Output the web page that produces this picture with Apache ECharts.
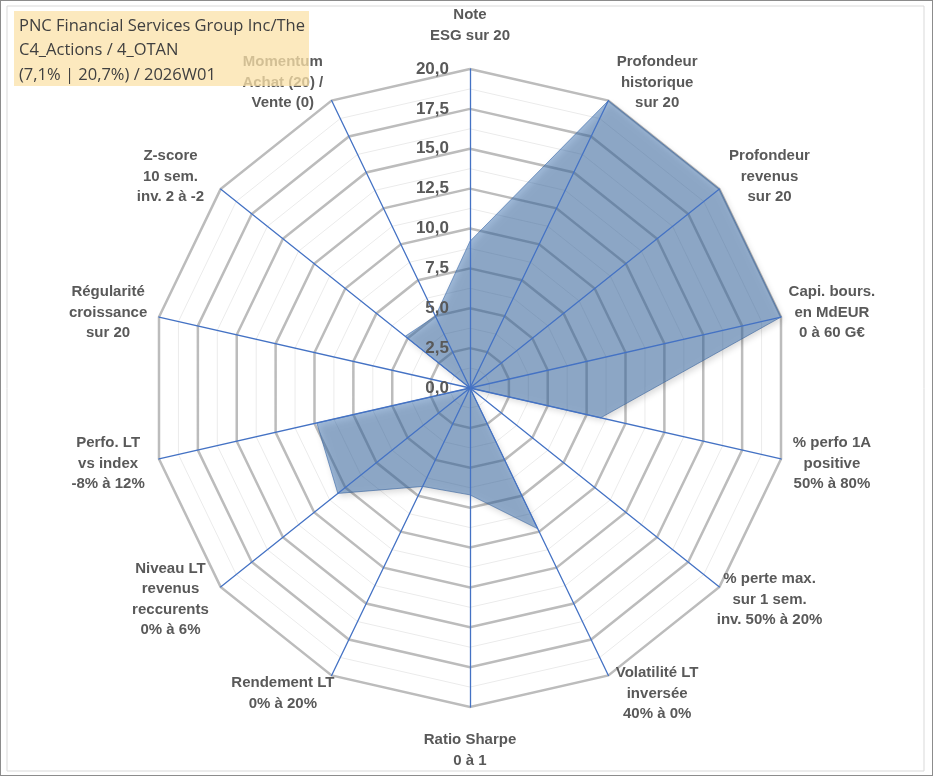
<!DOCTYPE html>
<html>
<head>
<meta charset="utf-8">
<script src="https://cdn.jsdelivr.net/npm/echarts@6/dist/echarts.min.js"></script>
<style>
	html, body { margin: 0; padding: 0; background: #fff; }
	#chart { width: 933px; height: 776px; box-sizing: border-box; border: 1px solid #8c8c8c; }
</style>
</head>
<body>
<div id="chart"></div>
<script>
// axes of the radar, clockwise from the top
var axisNames = [
	'Note\nESG sur 20',
	'Profondeur\nhistorique\nsur 20',
	'Profondeur\nrevenus\nsur 20',
	'Capi. bours.\nen MdEUR\n0 à 60 G€',
	'% perfo 1A\npositive\n50% à 80%',
	'% perte max.\nsur 1 sem.\ninv. 50% à 20%',
	'Volatilité LT\ninversée\n40% à 0%',
	'Ratio Sharpe\n0 à 1',
	'Rendement LT\n0% à 20%',
	'Niveau LT\nrevenus\nreccurents\n0% à 6%',
	'Perfo. LT\nvs index\n-8% à 12%',
	'Régularité\ncroissance\nsur 20',
	'Z-score\n10 sem.\ninv. 2 à -2',
	'Momentum\nAchat (20) /\nVente (0)'
];
// notes sur 20
var scores = [9.2, 20, 20, 20, 8.4, 0, 9.8, 6.7, 6.85, 10.6, 9.85, 0, 5.2, 5.0];
var scoreMax = 20;
var titleLines = [
	'PNC Financial Services Group Inc/The',
	'C4_Actions / 4_OTAN',
	'(7,1% | 20,7%) / 2026W01'
];

// echarts tourne dans le sens inverse : on garde le premier axe en haut et on inverse le reste
function clockwise(arr) {
	return [arr[0]].concat(arr.slice(1).reverse());
}

var myChart = echarts.init(document.getElementById('chart'));
var center = [469, 387];
var radius = 319;
var indicators = clockwise(axisNames).map(function (n) {
	return { name: n, max: scoreMax, min: 0 };
});
var hidden = {
	axisLine: { show: false },
	axisTick: { show: false },
	splitArea: { show: false }
};

// décale un peu les libellés vers le haut / le bas selon l'angle de l'axe
function axisNameFormatter(name) {
	var i = axisNames.indexOf(name);
	var n = axisNames.length;
	var c = Math.cos(i * 2 * Math.PI / n);
	var lines = name.split('\n').map(function (l) { return '{a|' + l + '}'; });
	var gapLine;
	if (i === 0 || i === n / 2) {
		gapLine = '{g19|}';
	} else {
		gapLine = '{g' + Math.round(Math.abs(c) * 32) + '|}';
	}
	if (c > 0) lines.push(gapLine);
	else lines.unshift(gapLine);
	return lines.join('\n');
}
var nameRich = {
	a: { width: 94, align: 'center', lineHeight: 20.5, fontSize: 15, fontWeight: 'bold', color: '#595959' }
};
for (var h = 0; h <= 32; h++) {
	nameRich['g' + h] = { height: h, lineHeight: h };
}

var option = {
	animation: false,
	radar: [
		// fines lignes intermédiaires
		Object.assign({
			center: center, radius: radius, startAngle: 90, splitNumber: 16, z: 0,
			indicator: indicators,
			axisName: { show: false },
			splitLine: { lineStyle: { color: '#ebebeb', width: 1 } }
		}, hidden),
		// anneaux principaux
		Object.assign({
			center: center, radius: radius, startAngle: 90, splitNumber: 8, z: 0,
			indicator: indicators,
			axisName: { show: false },
			splitLine: { lineStyle: { color: '#bcbcbc', width: 2.5 } }
		}, hidden),
		// rayons bleus et noms des axes, au-dessus de la surface
		{
			center: center, radius: radius, startAngle: 90, splitNumber: 8, z: 3,
			indicator: indicators,
			nameGap: 4,
			axisName: {
				color: '#595959',
				fontFamily: 'Liberation Sans, Arial, sans-serif',
				fontWeight: 'bold',
				fontSize: 15,
				formatter: axisNameFormatter,
				rich: nameRich
			},
			axisLine: { show: true, lineStyle: { color: '#4472c4', width: 1.3 } },
			axisTick: { show: false },
			splitLine: { show: false },
			splitArea: { show: false }
		},
		// graduations sur l'axe vertical
		{
			center: center, radius: radius, startAngle: 90, splitNumber: 8, z: 4,
			indicator: [{ name: '', max: scoreMax, min: 0 }],
			axisName: { show: false },
			axisLine: { show: false },
			axisTick: { show: false },
			splitLine: { show: false },
			splitArea: { show: false },
			axisLabel: {
				show: true,
				margin: 21,
				color: '#595959',
				fontFamily: 'Liberation Sans, Arial, sans-serif',
				fontWeight: 'bold',
				fontSize: 17,
				formatter: function (v) { return v.toFixed(1).replace('.', ','); }
			}
		}
	],
	series: [{
		type: 'radar',
		radarIndex: 1,
		z: 2,
		symbol: 'none',
		lineStyle: { width: 1, color: 'rgba(60,105,170,0.6)' },
		areaStyle: {
			color: 'rgba(60,112,175,0.7)',
			shadowBlur: 6,
			shadowOffsetX: 2,
			shadowOffsetY: 3,
			shadowColor: 'rgba(0,0,0,0.3)'
		},
		data: [{ value: clockwise(scores), name: titleLines[0] }]
	}],
	graphic: [
		{
			type: 'rect', z: 100, silent: true,
			shape: { x: 6, y: 5, width: 917, height: 765 },
			style: { fill: 'none', stroke: '#d9d9d9', lineWidth: 1 }
		},
		{
			type: 'rect', z: 100, silent: true,
			shape: { x: 13, y: 10, width: 295, height: 75 },
			style: { fill: 'rgba(251,226,168,0.75)' }
		},
		{
			type: 'text', z: 101, silent: true, left: 18, top: 13,
			style: {
				text: titleLines.join('\n'),
				fill: '#404040',
				font: '16.5px "Open Sans", sans-serif',
				lineHeight: 24.5
			}
		}
	]
};
myChart.setOption(option);
window.addEventListener('resize', function () {
	myChart.resize();
});
</script>
</body>
</html>
